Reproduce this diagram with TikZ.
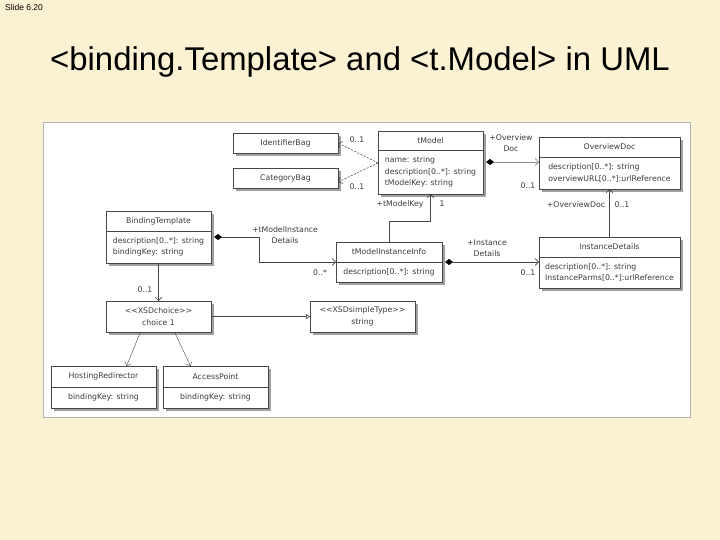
\documentclass[tikz,border=0pt]{standalone}
\usepackage{fontspec}
\setmainfont{Liberation Sans}
\newfontfamily\umlfont{DejaVu Sans}
\usepackage{tikz}
\usetikzlibrary{arrows.meta,positioning,shadows}
\definecolor{slidebg}{RGB}{251,241,211}
\definecolor{umlline}{RGB}{70,70,70}
\definecolor{umltext}{RGB}{60,60,60}
\definecolor{umlshadow}{RGB}{160,160,160}
\newcommand\umlsize{\umlfont\fontsize{7.8}{11.5}\selectfont}

\begin{document}
\begin{tikzpicture}[x=1bp, y=-1bp,
  umlbox/.style={rectangle, draw=umlline, line width=0.6bp, fill=white,
    outer sep=0pt, inner sep=2bp, minimum width=105bp, minimum height=20bp,
    text=umltext, font=\umlsize, align=center,
    drop shadow={shadow xshift=3bp, shadow yshift=-3bp, fill=umlshadow, opacity=1}},
  umlattr/.style={umlbox, align=left, below=0pt of #1},
  umlarrow/.style={draw=umlline, line width=0.6bp, -{Straight Barb[length=3.5bp,width=7bp]}},
  umlcomp/.style={umlarrow, {Diamond[length=8bp,width=6bp,color=black,fill=black]}-{Straight Barb[length=3.5bp,width=7bp]}},
  umldep/.style={umlarrow, dash pattern=on 2bp off 1.5bp},
  umllabel/.style={text=umltext, font=\umlsize, inner sep=1bp, align=center}]

  \path[use as bounding box, fill=slidebg] (0,0) rectangle (720,540);
  \node[font=\fontsize{8.5}{10}\selectfont, anchor=base west, inner sep=0pt] (slideno) at (5,11) {Slide 6.20};
  \node[font=\fontsize{33}{40}\selectfont, anchor=base] (title) at (360,71) {<binding.Template> and <t.Model> in UML};

  % UML panel
  \draw[black!30, line width=0.5bp, fill=white] (43,122) rectangle (690,417);

  % Top row
  \node[umlbox, anchor=north west] (idbag)  at (233,133) {IdentifierBag};
  \node[umlbox, anchor=north west] (catbag) at (233,168) {CategoryBag};
  \node[umlbox, anchor=north west, minimum height=19bp] (tmodel) at (378,131) {tModel};
  \node[umlattr=tmodel, minimum height=44bp] (tmodelattr) {name: string\\description[0..*]: string\\tModelKey: string};
  \node[umlbox, anchor=north west, minimum width=141bp] (ovdoc) at (539,137) {OverviewDoc};
  \node[umlattr=ovdoc, minimum width=141bp, minimum height=32bp] (ovdocattr) {description[0..*]: string\\overviewURL[0..*]:urlReference};

  % Middle row
  \node[umlbox, anchor=north west] (bind) at (106,211) {BindingTemplate};
  \node[umlattr=bind, minimum height=32bp] (bindattr) {description[0..*]: string\\bindingKey: string};
  \node[umlbox, anchor=north west, minimum width=106bp] (tminfo) at (336,242) {tModelInstanceInfo};
  \node[umlattr=tminfo, minimum width=106bp] (tminfoattr) {description[0..*]: string};
  \node[umlbox, anchor=north west, minimum width=141bp] (inst) at (539,237) {InstanceDetails};
  \node[umlattr=inst, minimum width=141bp, minimum height=31bp] (instattr) {description[0..*]: string\\InstanceParms[0..*]:urlReference};

  % Lower rows
  \node[umlbox, anchor=north west, minimum height=31bp] (choice) at (106,301) {<{}<XSDchoice>{}>\\choice 1};
  \node[umlbox, anchor=north west, minimum height=31bp] (simple) at (310,301) {<{}<XSDsimpleType>{}>\\string};
  \node[umlbox, anchor=north west, minimum height=21bp] (hosting) at (51,366) {HostingRedirector};
  \node[umlattr=hosting, minimum height=21bp] (hostingattr) {bindingKey: string};
  \node[umlbox, anchor=north west, minimum height=21bp] (access) at (163,366) {AccessPoint};
  \node[umlattr=access, minimum height=21bp] (accessattr) {bindingKey: string};

  % Associations
  \draw[umldep] ([yshift=9bp]tmodelattr.west) -- (idbag.east);
  \draw[umldep] ([yshift=9bp]tmodelattr.west) -- ([yshift=-4bp]catbag.east);
  \node[umllabel] (lblid)  at (357,140) {0..1};
  \node[umllabel] (lblcat) at (357,187) {0..1};

  \draw[umlcomp, draw=black!45] ([xshift=3bp,yshift=10bp]tmodelattr.east) coordinate (ovstart) -- (ovstart -| ovdocattr.west);
  \node[umllabel] (lblov)   at (511,143) {+Overview\\Doc};
  \node[umllabel] (lblovm)  at (528,186) {0..1};

  \draw[umlarrow] (tminfo.north) -- ++(0,-20.5) -| (tmodelattr.south);
  \node[umllabel] (lblkey)  at (400,204) {+tModelKey};
  \node[umllabel] (lblkeym) at (442,204) {1};

  \draw[umlcomp] ([xshift=3bp,yshift=10bp]bindattr.east) -- ++(45,0) |- (tminfo.south west);
  \node[umllabel] (lbltmi)  at (285,235) {+tModelInstance\\Details};
  \node[umllabel] (lbltmim) at (320,273) {0..*};

  \draw[umlcomp] ([xshift=3bp]tminfo.south east) coordinate (inststart) -- (inststart -| instattr.west);
  \node[umllabel] (lblinst)  at (487,248) {+Instance\\Details};
  \node[umllabel] (lblinstm) at (528,273) {0..1};

  \draw[umlarrow] (inst.north) -- (ovdocattr.south);
  \node[umllabel] (lblod)  at (576,205) {+OverviewDoc};
  \node[umllabel] (lblodm) at (622,205) {0..1};

  \draw[umlarrow] (bindattr.south) -- (choice.north);
  \node[umllabel] (lblch) at (145,290) {0..1};

  \draw[umlline, line width=0.6bp, -{Triangle[open,length=4bp,width=5bp]}] (choice.east) -- (simple.west);

  \draw[umlarrow, line width=0.4bp] ([xshift=-18bp]choice.south) -- ([xshift=23bp]hosting.north);
  \draw[umlarrow, line width=0.4bp] ([xshift=16bp]choice.south) -- ([xshift=-25bp]access.north);
\end{tikzpicture}
\end{document}
